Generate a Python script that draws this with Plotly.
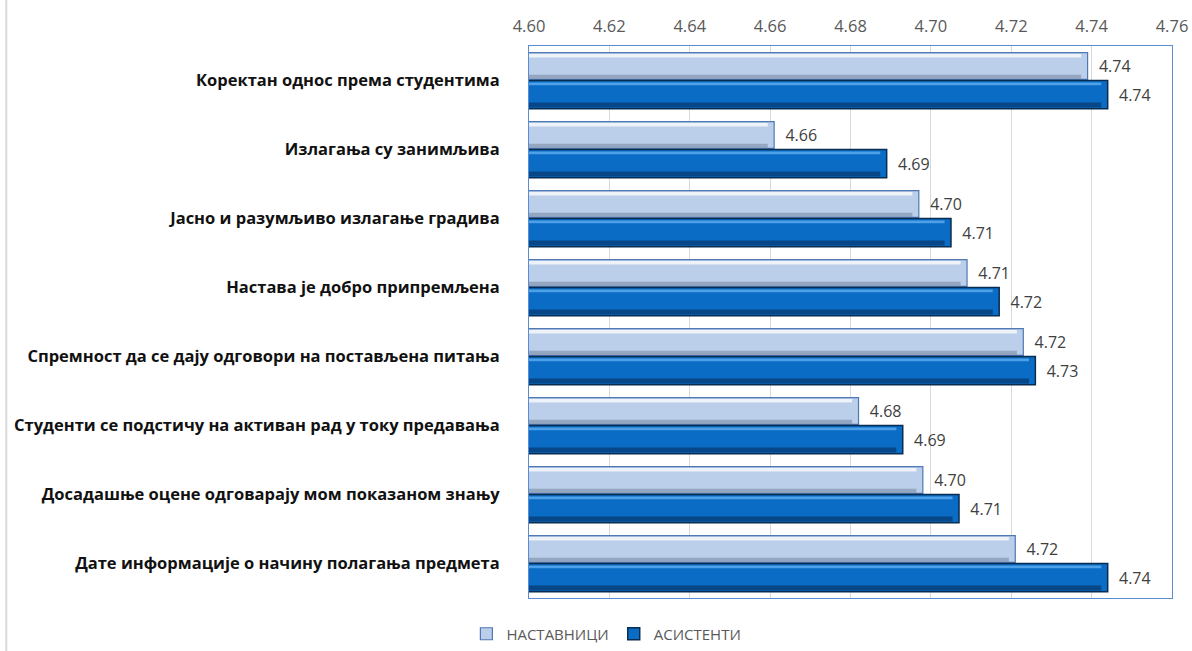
import plotly.graph_objects as go

categories = [
    "Коректан однос према студентима",
    "Излагања су занимљива",
    "Јасно и разумљиво излагање градива",
    "Настава је добро припремљена",
    "Спремност да се дају одговори на постављена питања",
    "Студенти се подстичу на активан рад у току предавања",
    "Досадашње оцене одговарају мом показаном знању",
    "Дате информације о начину полагања предмета",
]
nastavnici = [4.739, 4.661, 4.697, 4.709, 4.723, 4.682, 4.698, 4.721]
asistenti = [4.744, 4.689, 4.705, 4.717, 4.726, 4.693, 4.707, 4.744]
x_ticks = [4.60, 4.62, 4.64, 4.66, 4.68, 4.70, 4.72, 4.74, 4.76]

NB = "\u00a0\u00a0"
W, H = 1192, 651
L, R, T, B = 528.5, 19.5, 46, 53
pw = W - L - R
ph = H - T - B
BEV = 0.0016  # bevel inset in data units (~6px)

fig = go.Figure()
# main bars
fig.add_trace(go.Bar(
    name="НАСТАВНИЦИ", y=categories, x=nastavnici, orientation="h",
    offset=-0.405, width=0.39,
    marker=dict(color="#BBCEEA", line=dict(color="#4F79B5", width=1.2)),
    text=[NB + f"{v:.2f}" for v in nastavnici], textposition="outside",
    textfont=dict(size=16, color="#404040", family="Open Sans"),
    cliponaxis=False, hoverinfo="x+y",
))
fig.add_trace(go.Bar(
    name="АСИСТЕНТИ", y=categories, x=asistenti, orientation="h",
    offset=0.0, width=0.41,
    marker=dict(color="#0A6CC4", line=dict(color="#082D50", width=1.5)),
    text=[NB + f"{v:.2f}" for v in asistenti], textposition="outside",
    textfont=dict(size=16, color="#404040", family="Open Sans"),
    cliponaxis=False, hoverinfo="x+y",
))
# bevel highlights / shadows
bevels = [
    (nastavnici, -0.385, 0.05, "rgba(255,255,255,0.75)"),
    (nastavnici, -0.085, 0.06, "rgba(110,125,150,0.5)"),
    (asistenti, 0.03, 0.04, "rgba(90,170,240,0.85)"),
    (asistenti, 0.32, 0.07, "rgba(5,45,95,0.6)"),
]
for vals, off, wd, col in bevels:
    fig.add_trace(go.Bar(
        y=categories, x=[v - BEV for v in vals], orientation="h",
        offset=off, width=wd, marker=dict(color=col, line=dict(width=0)),
        showlegend=False, hoverinfo="skip",
    ))

fig.update_layout(
    width=W, height=H,
    margin=dict(l=L, r=R, t=T, b=B, autoexpand=False),
    paper_bgcolor="white", plot_bgcolor="white",
    barmode="overlay",
    font=dict(family="Open Sans", color="#404040"),
    legend=dict(orientation="h", x=(606 - L) / pw, xanchor="center",
                y=-(634 - 598) / ph, yanchor="middle",
                font=dict(size=15, color="#595959"), traceorder="normal",
                itemwidth=30, tracegroupgap=0),
    xaxis=dict(
        range=[4.60, 4.76], side="top", tickvals=x_ticks,
        ticktext=[f"{v:.2f}" for v in x_ticks],
        showgrid=True, gridcolor="#D9D9D9", gridwidth=1,
        tickfont=dict(size=16.5, color="#595959"),
        showline=True, linecolor="#5B8BD0", linewidth=1, mirror=True,
        zeroline=False, ticks="", ticklabelstandoff=6, automargin=False,
    ),
    yaxis=dict(
        autorange="reversed", showline=True, linecolor="#5B8BD0", linewidth=1, mirror=True,
        tickfont=dict(size=16.5, color="#111111", family="Open Sans", weight="bold"),
        ticks="", ticklabelstandoff=25, showgrid=False, automargin=False,
    ),
    shapes=[dict(type="line", xref="paper", yref="paper",
                 x0=(5 - L) / pw, x1=(5 - L) / pw,
                 y0=-(B) / ph, y1=1 + T / ph,
                 line=dict(color="#D9D9D9", width=2))],
)
fig.write_html("out.html", config={"displayModeBar": False},
               post_script="document.body.style.margin='0';document.body.style.overflow='hidden';")
